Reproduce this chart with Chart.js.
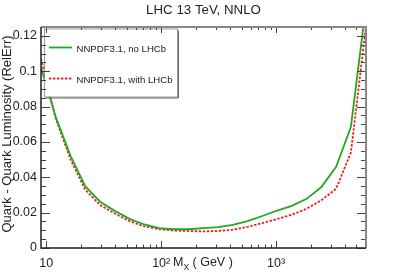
<!DOCTYPE html>
<html>
<head>
<meta charset="utf-8">
<script src="https://cdn.jsdelivr.net/npm/chart.js@4"></script>
<style>
html, body { margin: 0; padding: 0; background: #fff; }
#wrap { width: 407px; height: 276px; }
</style>
</head>
<body>
<div id="wrap"><canvas id="chart" width="407" height="276"></canvas></div>
<script>
// Invariant mass points (GeV)
const massValues = [9, 12.1, 16.3, 21.8, 29.4, 39.4, 53, 71.2, 95.8, 128.7, 173, 232,
    312, 420, 564, 759, 1020, 1370, 1842, 2475, 3327, 4472, 6010];

// Relative error of the quark-quark luminosity
const noLhcb = [0.102, 0.074, 0.052, 0.035, 0.0262, 0.021, 0.0165, 0.0133, 0.0112, 0.0106, 0.0106, 0.0112,
    0.0118, 0.0131, 0.0152, 0.0181, 0.0212, 0.0238, 0.0278, 0.0345, 0.0459, 0.0685, 0.1356];
const withLhcb = [0.107, 0.073, 0.050, 0.033, 0.0243, 0.0195, 0.0152, 0.0122, 0.0106, 0.0099, 0.0096, 0.0094,
    0.0096, 0.0103, 0.0119, 0.0141, 0.0164, 0.0188, 0.0222, 0.027, 0.0335, 0.054, 0.124];

const seriesNames = ["NNPDF3.1, no LHCb", "NNPDF3.1, with LHCb"];

// Axis ticks
const xTickValues = [10, 20, 30, 40, 50, 60, 70, 80, 90, 100, 200, 300, 400, 500, 600, 700, 800, 900,
    1000, 2000, 3000, 4000, 5000, 6000];
const xMajorValues = [10, 100, 1000];
const xTickLabels = ["10", "10²", "10³"];
const yMajorValues = [0, 0.02, 0.04, 0.06, 0.08, 0.1, 0.12];
const yTickLabels = ["0", "0.02", "0.04", "0.06", "0.08", "0.1", "0.12"];

const FONT = '"Liberation Sans", Arial, sans-serif';

function yLabelFor(v) {
    const i = yMajorValues.findIndex(m => Math.abs(m - v) < 1e-6);
    return i >= 0 ? yTickLabels[i] : '';
}

// ROOT style frame: inner ticks on all sides, titles, legend
const rootStyle = {
    id: 'rootStyle',
    afterDatasetsDraw(chart) {
        const ctx = chart.ctx;
        const a = chart.chartArea;
        const xs = chart.scales.x, ys = chart.scales.y;
        ctx.save();

        // legend box
        const lx = 44, ly = 28.5, lw = 133, lh = 68;
        ctx.fillStyle = '#fff';
        ctx.fillRect(lx, ly, lw, lh);
        ctx.strokeStyle = '#999';
        ctx.lineWidth = 1;
        ctx.strokeRect(lx + 0.5, ly + 0.5, lw, lh);
        ctx.strokeStyle = '#666';
        ctx.beginPath();
        ctx.moveTo(lx + lw + 1.5, ly + 2);
        ctx.lineTo(lx + lw + 1.5, ly + lh + 1.5);
        ctx.lineTo(lx + 2, ly + lh + 1.5);
        ctx.stroke();

        const entries = chart.data.datasets;
        const rows = [47.5, 78.5];
        entries.forEach((ds, i) => {
            ctx.strokeStyle = ds.borderColor;
            ctx.lineWidth = ds.borderWidth;
            ctx.setLineDash(ds.borderDash || []);
            ctx.beginPath();
            ctx.moveTo(49, rows[i]);
            ctx.lineTo(72, rows[i]);
            ctx.stroke();
            ctx.setLineDash([]);
            ctx.fillStyle = '#222';
            ctx.font = '9.6px ' + FONT;
            ctx.textAlign = 'left';
            ctx.textBaseline = 'alphabetic';
            ctx.fillText(ds.label, 76.5, rows[i] + 4.8);
        });

        // inner ticks
        ctx.strokeStyle = '#444';
        ctx.lineWidth = 1;
        xs.ticks.forEach(t => {
            const px = Math.round(xs.getPixelForValue(t.value)) + 0.5;
            const major = xMajorValues.includes(t.value);
            const lb = major ? 7 : 3.5, lt = major ? 6 : 3;
            ctx.beginPath();
            ctx.moveTo(px, a.bottom); ctx.lineTo(px, a.bottom - lb);
            ctx.moveTo(px, a.top); ctx.lineTo(px, a.top + lt);
            ctx.stroke();
        });
        ys.ticks.forEach(t => {
            const py = Math.round(ys.getPixelForValue(t.value)) + 0.5;
            const len = yLabelFor(t.value) ? 9 : 5;
            ctx.beginPath();
            ctx.moveTo(a.left, py); ctx.lineTo(a.left + len, py);
            ctx.moveTo(a.right, py); ctx.lineTo(a.right - len, py);
            ctx.stroke();
        });

        // frame
        ctx.strokeStyle = '#888';
        ctx.lineWidth = 2;
        ctx.beginPath();
        ctx.moveTo(a.left, a.top); ctx.lineTo(a.right, a.top); ctx.lineTo(a.right, a.bottom);
        ctx.stroke();
        ctx.strokeStyle = '#222';
        ctx.lineWidth = 1.5;
        ctx.beginPath();
        ctx.moveTo(a.left, a.top); ctx.lineTo(a.left, a.bottom); ctx.lineTo(a.right, a.bottom);
        ctx.stroke();

        // title
        ctx.fillStyle = '#222';
        ctx.font = '13.3px ' + FONT;
        ctx.textAlign = 'center';
        ctx.textBaseline = 'alphabetic';
        ctx.fillText('LHC 13 TeV, NNLO', 203.5, 13.5);

        // x title: M_X ( GeV )
        ctx.textAlign = 'left';
        ctx.font = '12.5px ' + FONT;
        let x = 173;
        ctx.fillText('M', x, 266);
        x += ctx.measureText('M').width;
        ctx.font = '8.5px ' + FONT;
        ctx.fillText('X', x, 270);
        x += ctx.measureText('X').width;
        ctx.font = '12.5px ' + FONT;
        ctx.fillText(' ( GeV )', x, 266);

        // y title
        ctx.translate(10.5, 134);
        ctx.rotate(-Math.PI / 2);
        ctx.font = '13px ' + FONT;
        ctx.textAlign = 'center';
        ctx.fillText('Quark - Quark Luminosity (RelErr)', 0, 0);
        ctx.restore();
    }
};

const ctx = document.getElementById('chart').getContext('2d');
new Chart(ctx, {
    type: 'line',
    data: {
        datasets: [{
            label: seriesNames[0],
            data: massValues.map((m, i) => ({ x: m, y: noLhcb[i] })),
            borderColor: '#22a822',
            borderWidth: 1.8,
            pointRadius: 0,
            tension: 0
        }, {
            label: seriesNames[1],
            data: massValues.map((m, i) => ({ x: m, y: withLhcb[i] })),
            borderColor: '#ee1c1c',
            borderWidth: 1.8,
            borderDash: [2.4, 1.6],
            pointRadius: 0,
            tension: 0
        }]
    },
    options: {
        responsive: false,
        devicePixelRatio: 1,
        animation: false,
        layout: { padding: { top: 27, right: 41, left: 0, bottom: 0 } },
        plugins: { legend: { display: false }, tooltip: { enabled: false } },
        scales: {
            x: {
                type: 'logarithmic',
                min: 9,
                max: 6050,
                afterBuildTicks: s => { s.ticks = xTickValues.map(v => ({ value: v })); },
                afterFit: s => { s.height = 28; },
                grid: { display: false, drawTicks: false },
                border: { display: false },
                ticks: {
                    autoSkip: false,
                    maxRotation: 0,
                    padding: 8,
                    color: '#222',
                    font: { family: FONT, size: 12.5 },
                    callback: v => {
                        const i = xMajorValues.indexOf(v);
                        return i >= 0 ? xTickLabels[i] : '';
                    }
                }
            },
            y: {
                min: 0,
                max: 0.125,
                afterFit: s => { s.width = 41; },
                grid: { display: false, drawTicks: false },
                border: { display: false },
                ticks: {
                    stepSize: 0.005,
                    autoSkip: false,
                    padding: 4,
                    color: '#222',
                    font: { family: FONT, size: 12.5 },
                    callback: v => yLabelFor(v)
                }
            }
        }
    },
    plugins: [rootStyle]
});
</script>
</body>
</html>
